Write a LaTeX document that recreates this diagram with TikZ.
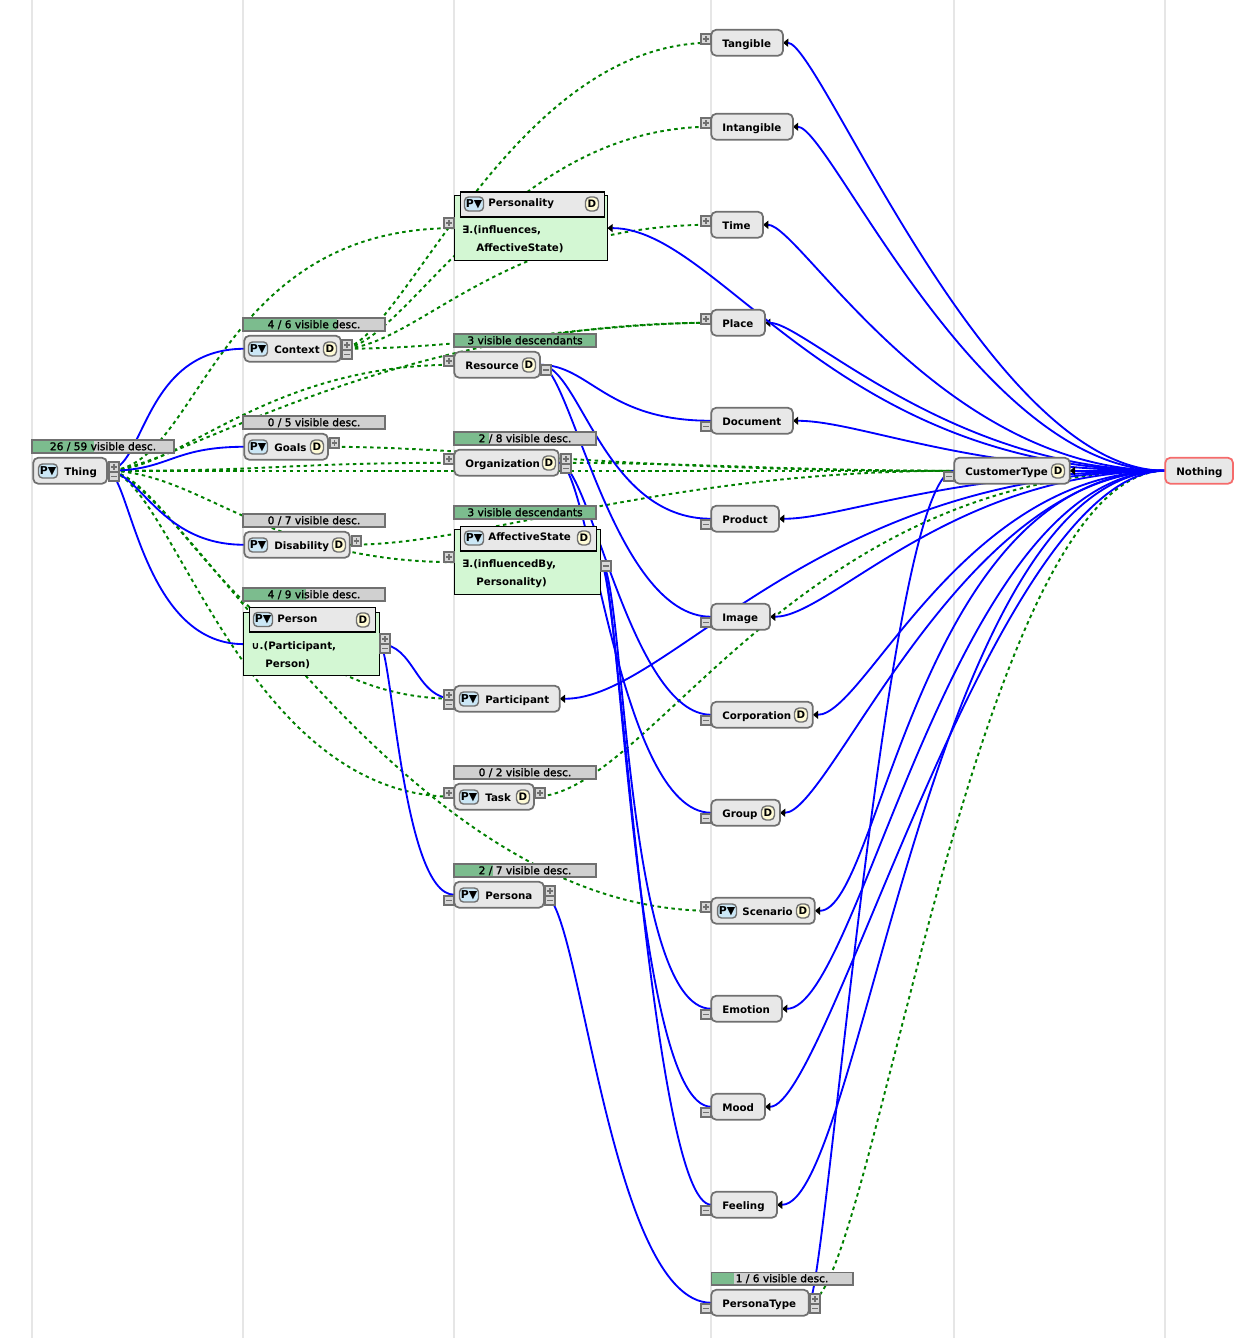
\documentclass[tikz,border=0pt]{standalone}
\usepackage{fontspec}
\setmainfont{DejaVu Sans}
\newfontfamily\barfont[RawFeature={embolden=1.6}]{DejaVu Sans}
\usepackage{xcolor}
\usetikzlibrary{arrows.meta}
\definecolor{boxgrey}{HTML}{707070}
\definecolor{boxfill}{HTML}{E8E8E8}
\definecolor{barfill}{HTML}{D0D0D0}
\definecolor{btnfill}{HTML}{D8D8D8}
\definecolor{bargreen}{HTML}{7CBC8E}
\definecolor{defgreen}{HTML}{D3F7D3}
\definecolor{depgreen}{HTML}{008000}
\definecolor{nothingred}{HTML}{F56B6B}
\definecolor{badgeblue}{HTML}{CBE7F6}
\definecolor{badgeyellow}{HTML}{FFFBD6}
\definecolor{colgrey}{HTML}{E6E6E6}
\def\px{0.5669pt}
\pgfdeclarelayer{columns}
\pgfdeclarelayer{edges}
\pgfsetlayers{columns,edges,main}
\tikzset{
  classbox/.style={rectangle,rounded corners=2.8pt,draw=boxgrey,fill=boxfill,line width=1pt,anchor=west,minimum width=(#1-1)*\px,xshift=.25*\px,minimum height=26*\px,yshift=.25*\px,inner sep=0pt,outer sep=0pt},
  classlabel/.style={anchor=west,inner sep=0pt,font=\bfseries\fontsize{5.85pt}{7pt}\selectfont,text height=6.6pt,text depth=1.1pt},
  pbadge/.style={rectangle,rounded corners=2.2pt,draw=boxgrey,fill=badgeblue,line width=.8pt,minimum width=19*\px,minimum height=14*\px,inner sep=0pt,font=\bfseries\fontsize{6.2pt}{7pt}\selectfont},
  dbadge/.style={rectangle,rounded corners=2.6pt,draw=boxgrey,fill=badgeyellow,line width=.8pt,minimum width=13*\px,minimum height=14*\px,inner sep=0pt,font=\bfseries\fontsize{5.85pt}{7pt}\selectfont},
  descbar/.style={rectangle,draw=boxgrey,fill=barfill,line width=.9pt,minimum width=142*\px,minimum height=12.5*\px,inner sep=0pt,font=\barfont\fontsize{6.05pt}{6pt}\selectfont,text height=5pt,text depth=.8pt,
    path picture={\fill[bargreen] (path picture bounding box.south west) rectangle ([xshift=#1*\px]path picture bounding box.north west);}},
  defbox/.style={rectangle,draw=black,fill=defgreen,line width=.7pt,anchor=north west,inner sep=0pt,outer sep=0pt},
  headbox/.style={rectangle,draw=black,fill=boxfill,line width=.7pt,anchor=north west,inner sep=0pt},
  plusbtn/.style={rectangle,draw=boxgrey,fill=btnfill,line width=.9pt,minimum size=9.5*\px,inner sep=0pt,
    path picture={\draw[boxgrey,line width=.6pt] ([xshift=-3*\px]path picture bounding box.center) -- ([xshift=3*\px]path picture bounding box.center);
      \draw[boxgrey,line width=.6pt] ([yshift=-3*\px]path picture bounding box.center) -- ([yshift=3*\px]path picture bounding box.center);}},
  minusbtn/.style={rectangle,draw=boxgrey,fill=btnfill,line width=.9pt,minimum size=9.5*\px,inner sep=0pt,
    path picture={\draw[boxgrey,line width=.6pt] ([xshift=-3*\px]path picture bounding box.center) -- ([xshift=3*\px]path picture bounding box.center);}},
  isaedge/.style={draw=blue,line width=1.05pt},
  isaarrow/.style={draw=blue,line width=1.05pt,-{Triangle[black,length=3pt,width=4.6pt]}},
  depedge/.style={draw=depgreen,line width=1.1pt,dash pattern=on 2pt off 2pt},
}
\begin{document}
\begin{tikzpicture}[x=0.02cm,y=-0.02cm]
\useasboundingbox (0,0) rectangle (1250,1338);

\begin{pgfonlayer}{columns}
\foreach \colx in {32,243,454,711,954,1165}
  \draw[colgrey,line width=1.1pt] (\colx,0) -- (\colx,1338);
\end{pgfonlayer}

% first column
\node[descbar=62] (thingbar) at (103,446.5) {26 / 59 visible desc.};
\node[classbox=75] (thing) at (33,471) {};
\node[pbadge] (thingp) at (48,471) {P▼};
\node[classlabel] (thinglabel) at (64,471) {Thing};
\node[plusbtn] (thingplus) at (114,467) {};
\node[minusbtn] (thingminus) at (114,476.5) {};

% second column
\node[descbar=94] (contextbar) at (314,324.5) {4 / 6 visible desc.};
\node[classbox=98] (context) at (244,349) {};
\node[pbadge] (contextp) at (258,349) {P▼};
\node[classlabel] (contextlabel) at (274,349) {Context};
\node[dbadge] (contextd) at (330,349) {D};
\node[plusbtn] (contextplus) at (347,345) {};
\node[minusbtn] (contextminus) at (347,354.5) {};

\node[descbar=0] (goalsbar) at (314,422.5) {0 / 5 visible desc.};
\node[classbox=85] (goals) at (244,447) {};
\node[pbadge] (goalsp) at (258,447) {P▼};
\node[classlabel] (goalslabel) at (274,447) {Goals};
\node[dbadge] (goalsd) at (317,447) {D};
\node[plusbtn] (goalsplus) at (334.5,443) {};

\node[descbar=0] (disabilitybar) at (314,520.5) {0 / 7 visible desc.};
\node[classbox=107] (disability) at (244,545) {};
\node[pbadge] (disabilityp) at (258,545) {P▼};
\node[classlabel] (disabilitylabel) at (274,545) {Disability};
\node[dbadge] (disabilityd) at (339,545) {D};
\node[plusbtn] (disabilityplus) at (356.5,541) {};

\node[descbar=63] (personbar) at (314,594.5) {4 / 9 visible desc.};
\node[defbox,minimum width=136.5*\px,minimum height=63.5*\px] (person) at (243.5,612.5) {};
\node[headbox,minimum width=127*\px,minimum height=25*\px] (personhead) at (248.5,606.5) {};
\node[pbadge] (personp) at (263,619.5) {P▼};
\node[classlabel] (personlabel) at (277,618) {Person};
\node[dbadge] (persond) at (363,620) {D};
\node[classlabel] (persondefa) at (251,645) {∪.(Participant,};
\node[classlabel] (persondefb) at (265,663) {Person)};
\node[plusbtn] (personplus) at (385,639) {};
\node[minusbtn] (personminus) at (385,648.5) {};

% third column
\node[defbox,minimum width=153.5*\px,minimum height=65.5*\px] (personality) at (454.5,195.5) {};
\node[headbox,minimum width=145*\px,minimum height=25*\px] (personalityhead) at (459.5,191.5) {};
\node[pbadge] (personalityp) at (474,204) {P▼};
\node[classlabel] (personalitylabel) at (488,202) {Personality};
\node[dbadge] (personalityd) at (592,204) {D};
\node[classlabel] (personalitydefa) at (462,229) {∃.(influences,};
\node[classlabel] (personalitydefb) at (476,247) {AffectiveState)};
\node[plusbtn] (personalityplus) at (449,223) {};

\node[descbar=142] (resourcebar) at (525,340.5) {3 visible descendants};
\node[classbox=87] (resource) at (454,365) {};
\node[classlabel] (resourcelabel) at (465,365) {Resource};
\node[dbadge] (resourced) at (529,365) {D};
\node[plusbtn] (resourceplus) at (449,361) {};
\node[minusbtn] (resourceminus) at (546,370) {};

\node[descbar=35] (organizationbar) at (525,438.5) {2 / 8 visible desc.};
\node[classbox=106] (organization) at (454,463) {};
\node[classlabel] (organizationlabel) at (465,463) {Organization};
\node[dbadge] (organizationd) at (549,463) {D};
\node[plusbtn] (organizationleft) at (449,459) {};
\node[plusbtn] (organizationplus) at (566,459) {};
\node[minusbtn] (organizationminus) at (566,468.5) {};

\node[descbar=142] (affectivebar) at (525,512.5) {3 visible descendants};
\node[defbox,minimum width=146.5*\px,minimum height=65.5*\px] (affective) at (454.5,529.5) {};
\node[headbox,minimum width=137*\px,minimum height=25*\px] (affectivehead) at (459.5,525.5) {};
\node[pbadge] (affectivep) at (474,538) {P▼};
\node[classlabel] (affectivelabel) at (488,536) {AffectiveState};
\node[dbadge] (affectived) at (584,538) {D};
\node[classlabel] (affectivedefa) at (462,563) {∃.(influencedBy,};
\node[classlabel] (affectivedefb) at (476,581) {Personality)};
\node[plusbtn] (affectiveplus) at (449,557) {};
\node[minusbtn] (affectiveminus) at (606,566) {};

\node[classbox=107] (participant) at (454,699) {};
\node[pbadge] (participantp) at (469,699) {P▼};
\node[classlabel] (participantlabel) at (485,699) {Participant};
\node[plusbtn] (participantplus) at (449,695) {};
\node[minusbtn] (participantminus) at (449,704.5) {};

\node[descbar=0] (taskbar) at (525,772.5) {0 / 2 visible desc.};
\node[classbox=81] (task) at (454,797) {};
\node[pbadge] (taskp) at (469,797) {P▼};
\node[classlabel] (tasklabel) at (485,797) {Task};
\node[dbadge] (taskd) at (523,797) {D};
\node[plusbtn] (taskleft) at (449,793) {};
\node[plusbtn] (taskplus) at (540,793) {};

\node[descbar=39] (personabar) at (525,870.5) {2 / 7 visible desc.};
\node[classbox=91] (persona) at (454,895) {};
\node[pbadge] (personap) at (469,895) {P▼};
\node[classlabel] (personalabel) at (485,895) {Persona};
\node[minusbtn] (personaleft) at (449,900.5) {};
\node[plusbtn] (personaplus) at (550,891) {};
\node[minusbtn] (personaminus) at (550,900.5) {};

% fourth column
\node[classbox=73] (tangible) at (711,43) {};
\node[classlabel] (tangiblelabel) at (722,43) {Tangible};
\node[plusbtn] (tangibleplus) at (706,39) {};

\node[classbox=83] (intangible) at (711,127) {};
\node[classlabel] (intangiblelabel) at (722,127) {Intangible};
\node[plusbtn] (intangibleplus) at (706,123) {};

\node[classbox=53] (time) at (711,225) {};
\node[classlabel] (timelabel) at (722,225) {Time};
\node[plusbtn] (timeplus) at (706,221) {};

\node[classbox=55] (place) at (711,323) {};
\node[classlabel] (placelabel) at (722,323) {Place};
\node[plusbtn] (placeplus) at (706,319) {};

\node[classbox=83] (document) at (711,421) {};
\node[classlabel] (documentlabel) at (722,421) {Document};
\node[minusbtn] (documentminus) at (706,426.5) {};

\node[classbox=69] (product) at (711,519) {};
\node[classlabel] (productlabel) at (722,519) {Product};
\node[minusbtn] (productminus) at (706,524.5) {};

\node[classbox=60] (image) at (711,617) {};
\node[classlabel] (imagelabel) at (722,617) {Image};
\node[minusbtn] (imageminus) at (706,622.5) {};

\node[classbox=103] (corporation) at (711,715) {};
\node[classlabel] (corporationlabel) at (722,715) {Corporation};
\node[dbadge] (corporationd) at (801,715) {D};
\node[minusbtn] (corporationminus) at (706,720.5) {};

\node[classbox=70] (group) at (711,813) {};
\node[classlabel] (grouplabel) at (722,813) {Group};
\node[dbadge] (groupd) at (768,813) {D};
\node[minusbtn] (groupminus) at (706,818.5) {};

\node[classbox=105] (scenario) at (711,911) {};
\node[pbadge] (scenariop) at (727,911) {P▼};
\node[classlabel] (scenariolabel) at (742,911) {Scenario};
\node[dbadge] (scenariod) at (803,911) {D};
\node[plusbtn] (scenarioplus) at (706,907) {};

\node[classbox=72] (emotion) at (711,1009) {};
\node[classlabel] (emotionlabel) at (722,1009) {Emotion};
\node[minusbtn] (emotionminus) at (706,1014.5) {};

\node[classbox=55] (mood) at (711,1107) {};
\node[classlabel] (moodlabel) at (722,1107) {Mood};
\node[minusbtn] (moodminus) at (706,1112.5) {};

\node[classbox=67] (feeling) at (711,1205) {};
\node[classlabel] (feelinglabel) at (722,1205) {Feeling};
\node[minusbtn] (feelingminus) at (706,1210.5) {};

\node[descbar=23] (personatypebar) at (782,1278.5) {1 / 6 visible desc.};
\node[classbox=99] (personatype) at (711,1303) {};
\node[classlabel] (personatypelabel) at (722,1303) {PersonaType};
\node[minusbtn] (personatypeleft) at (706,1308.5) {};
\node[plusbtn] (personatypeplus) at (815,1299) {};
\node[minusbtn] (personatypeminus) at (815,1308.5) {};

% last columns
\node[classbox=117] (customertype) at (954,471) {};
\node[classlabel] (customertypelabel) at (965,471) {CustomerType};
\node[dbadge] (customertyped) at (1058,471) {D};
\node[minusbtn] (customertypeminus) at (949,476.5) {};

\node[classbox=69,draw=nothingred] (nothing) at (1165,471) {};
\node[classlabel] (nothinglabel) at (1176,471) {Nothing};

\begin{pgfonlayer}{edges}
% dependencies
\draw[depedge] (thing.east) .. controls (200,471) and (212,228) .. (personality.west);
\draw[depedge] (thing.east) .. controls (180,471) and (265,365) .. (resource.west);
\draw[depedge] (thing.east) .. controls (170,471) and (383,323) .. (place.west);
\draw[depedge] (thing.east) .. controls (280,471) and (280,463) .. (organization.west);
\draw[depedge] (thing.east) -- (nothing.west);
\draw[depedge] (thing.east) .. controls (200,471) and (265,562) .. (affective.west);
\draw[depedge] (thing.east) .. controls (170,471) and (250,699) .. (participant.west);
\draw[depedge] (thing.east) .. controls (180,471) and (400,911) .. (scenario.west);
\draw[depedge] (thing.east) .. controls (170,471) and (242,797) .. (task.west);
\draw[depedge] (context.east) .. controls (400,349) and (510,43) .. (tangible.west);
\draw[depedge] (context.east) .. controls (405,349) and (505,127) .. (intangible.west);
\draw[depedge] (context.east) .. controls (415,349) and (500,225) .. (time.west);
\draw[depedge] (context.east) .. controls (470,349) and (590,323) .. (place.west);
\draw[depedge] (goals.east) .. controls (480,447) and (612,471) .. (customertype.west);
\draw[depedge] (organization.east) .. controls (700,463) and (800,471) .. (customertype.west);
\draw[depedge] (disability.east) .. controls (480,545) and (660,471) .. (customertype.west);
\draw[depedge] (task.east) .. controls (650,797) and (793,471) .. (nothing.west);
\draw[depedge] (personatype.east) .. controls (870,1303) and (975,471) .. (nothing.west);
% subclasses
\draw[isaedge] (thing.east) .. controls (145,471) and (142,349) .. (context.west);
\draw[isaedge] (thing.east) .. controls (170,471) and (170,447) .. (goals.west);
\draw[isaedge] (thing.east) .. controls (140,471) and (160,545) .. (disability.west);
\draw[isaedge] (thing.east) .. controls (130,471) and (141,644) .. (person.west);
\draw[isaedge] (person.east) .. controls (415,644) and (415,699) .. (participant.west);
\draw[isaedge] (person.east) .. controls (392,644) and (402,895) .. (persona.west);
\draw[isaedge] (persona.east) .. controls (580,895) and (609,1303) .. (personatype.west);
\draw[isaedge] (resource.east) .. controls (590,365) and (606,421) .. (document.west);
\draw[isaedge] (resource.east) .. controls (580,365) and (603,519) .. (product.west);
\draw[isaedge] (resource.east) .. controls (570,365) and (613,617) .. (image.west);
\draw[isaedge] (organization.east) .. controls (590,463) and (631,715) .. (corporation.west);
\draw[isaedge] (organization.east) .. controls (590,463) and (618,813) .. (group.west);
\draw[isaedge] (affective.east) .. controls (625,562) and (623,1009) .. (emotion.west);
\draw[isaedge] (affective.east) .. controls (620,562) and (633,1107) .. (mood.west);
\draw[isaedge] (affective.east) .. controls (618,562) and (651,1205) .. (feeling.west);
\draw[isaedge] (personatype.east) .. controls (825,1303) and (887,471) .. (customertype.west);
% subclasses of nothing
\draw[isaarrow] (nothing.west) .. controls (989,471) and (820,43) .. (tangible.east);
\draw[isaarrow] (nothing.west) .. controls (978,471) and (830,127) .. (intangible.east);
\draw[isaarrow] (nothing.west) .. controls (941,471) and (800,225) .. (time.east);
\draw[isaarrow] (nothing.west) .. controls (951,471) and (805,323) .. (place.east);
\draw[isaarrow] (nothing.west) .. controls (835,471) and (720,228) .. (personality.east);
\draw[isaarrow] (nothing.west) .. controls (967,471) and (860,421) .. (document.east);
\draw[isaarrow] (nothing.west) .. controls (952,471) and (840,519) .. (product.east);
\draw[isaarrow] (nothing.west) .. controls (951,471) and (830,617) .. (image.east);
\draw[isaarrow] (nothing.west) .. controls (813,471) and (670,699) .. (participant.east);
\draw[isaarrow] (nothing.west) .. controls (963,471) and (865,715) .. (corporation.east);
\draw[isaarrow] (nothing.west) .. controls (961,471) and (830,813) .. (group.east);
\draw[isaarrow] (nothing.west) .. controls (918,471) and (880,911) .. (scenario.east);
\draw[isaarrow] (nothing.west) .. controls (952,471) and (860,1009) .. (emotion.east);
\draw[isaarrow] (nothing.west) .. controls (995,471) and (828,1107) .. (mood.east);
\draw[isaarrow] (nothing.west) .. controls (932,471) and (860,1205) .. (feeling.east);
\draw[isaarrow] (nothing.west) -- (customertype.east);
\draw[isaarrow] (resourceminus.center) -- (resource.east);
\draw[isaarrow] (affectiveminus.center) -- (affective.east);
\end{pgfonlayer}
\end{tikzpicture}
\end{document}
